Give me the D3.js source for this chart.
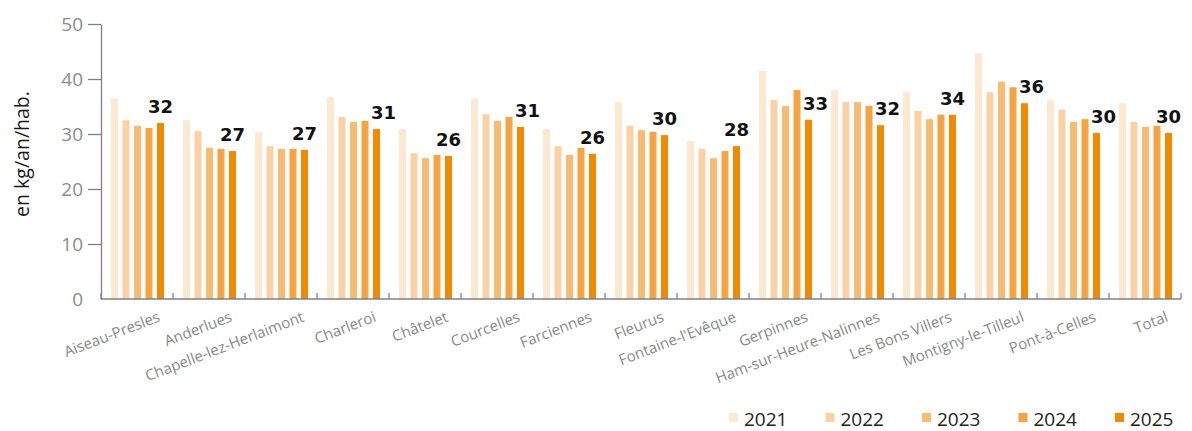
<!DOCTYPE html>
<html>
<head>
<meta charset="utf-8">
<script src="https://cdn.jsdelivr.net/npm/d3@7"></script>
<style>
  html, body { margin: 0; padding: 0; background: #fff; }
  svg { display: block; }
</style>
</head>
<body>
<svg id="chart" width="1192" height="431"></svg>
<script>
const categories = ["Aiseau-Presles", "Anderlues", "Chapelle-lez-Herlaimont", "Charleroi", "Châtelet", "Courcelles", "Farciennes", "Fleurus", "Fontaine-l'Evêque", "Gerpinnes", "Ham-sur-Heure-Nalinnes", "Les Bons Villers", "Montigny-le-Tilleul", "Pont-à-Celles", "Total"];
const years = ["2021", "2022", "2023", "2024", "2025"];
const v2021 = [36.5, 32.5, 30.4, 36.7, 30.9, 36.4, 30.9, 35.8, 28.7, 41.5, 38.0, 37.6, 44.7, 36.2, 35.6];
const v2022 = [32.5, 30.5, 27.8, 33.1, 26.5, 33.6, 27.8, 31.5, 27.3, 36.2, 35.8, 34.2, 37.6, 34.4, 32.2];
const v2023 = [31.5, 27.5, 27.3, 32.2, 25.6, 32.4, 26.2, 30.7, 25.6, 35.1, 35.8, 32.7, 39.5, 32.2, 31.3];
const v2024 = [31.1, 27.3, 27.3, 32.4, 26.2, 33.1, 27.5, 30.4, 26.9, 38.0, 35.1, 33.5, 38.5, 32.7, 31.5];
const v2025 = [32.0, 26.9, 27.1, 30.9, 26.0, 31.3, 26.4, 29.8, 27.8, 32.6, 31.6, 33.5, 35.6, 30.2, 30.2];
const valueLabels = ["32", "27", "27", "31", "26", "31", "26", "30", "28", "33", "32", "34", "36", "30", "30"];
const yTicks = [0, 10, 20, 30, 40, 50];
const yTitle = "en kg/an/hab.";
const colors = ["#fde8d1", "#fbd2a4", "#f8bb73", "#f4a443", "#f08a05"];

const series = [v2021, v2022, v2023, v2024, v2025];

const svg = d3.select("#chart");
const mLeft = 101, mRight = 1181, mTop = 24, mBottom = 299;

const y = d3.scaleLinear().domain([0, 50]).range([mBottom, mTop]);
const x0 = d3.scaleBand().domain(categories).range([mLeft, mRight]).padding(0);
const x1 = d3.scaleBand().domain(years).range([10, 63]).paddingInner(0.391).paddingOuter(0);
const color = d3.scaleOrdinal().domain(years).range(colors);

const font = "'Open Sans', 'Noto Sans', sans-serif";

// Y axis
const yAxis = d3.axisLeft(y).tickValues(yTicks).tickSize(13).tickSizeOuter(0).tickPadding(5);
const gy = svg.append("g").attr("transform", `translate(${mLeft},0)`).call(yAxis);
gy.select(".domain").attr("stroke", "#808080").attr("stroke-width", 1.3);
gy.selectAll(".tick line").attr("stroke", "#808080").attr("stroke-width", 1.3)
  .filter(d => d === 0).remove();
gy.selectAll(".tick text").attr("fill", "#8c8c8c").style("font-family", font).style("font-size", "19px");

// bars
const groups = svg.append("g").selectAll("g")
  .data(categories)
  .join("g")
  .attr("transform", d => `translate(${x0(d)},0)`);

groups.selectAll("rect")
  .data((d, i) => years.map((yr, j) => ({ yr, v: series[j][i] })))
  .join("rect")
  .attr("x", d => x1(d.yr))
  .attr("width", x1.bandwidth())
  .attr("y", d => y(d.v))
  .attr("height", d => y(0) - y(d.v))
  .attr("fill", d => color(d.yr));

// X axis
const xAxisG = svg.append("g");
xAxisG.append("line")
  .attr("x1", mLeft).attr("x2", mRight).attr("y1", mBottom).attr("y2", mBottom)
  .attr("stroke", "#808080").attr("stroke-width", 1.3);
const boundaries = categories.map(c => x0(c)).concat([x0(categories[categories.length - 1]) + x0.bandwidth()]);
xAxisG.selectAll("line.tk").data(boundaries).join("line")
  .attr("class", "tk")
  .attr("x1", d => d).attr("x2", d => d)
  .attr("y1", mBottom).attr("y2", mBottom - 6)
  .attr("stroke", "#808080").attr("stroke-width", 1.3);

xAxisG.selectAll("text").data(categories).join("text")
  .attr("transform", d => `translate(${x0(d) + x0.bandwidth() / 2 + 24},321) rotate(-21)`)
  .attr("text-anchor", "end")
  .attr("fill", "#8a8a8a")
  .style("font-family", font)
  .style("font-size", "15px")
  .text(d => d);

// value labels above the 2025 bar
svg.append("g").selectAll("text")
  .data(categories)
  .join("text")
  .each(function (d, i) {
    const cx = x0(d) + x1("2025") + x1.bandwidth() / 2;
    const base = y(v2025[i]) - 10;
    const shift = y(v2024[i]) < base + 2 ? 7 : 0;
    d3.select(this).attr("x", cx + shift).attr("y", base);
  })
  .attr("text-anchor", "middle")
  .attr("fill", "#111")
  .style("font-family", "'DejaVu Sans', sans-serif")
  .style("font-weight", "bold")
  .style("font-size", "18px")
  .text((d, i) => valueLabels[i]);

// Y title
svg.append("text")
  .attr("transform", "translate(29,154) rotate(-90)")
  .attr("text-anchor", "middle")
  .attr("fill", "#1a1a1a")
  .style("font-family", font)
  .style("font-size", "19.5px")
  .text(yTitle);

// legend
const legend = svg.append("g").selectAll("g")
  .data(years)
  .join("g")
  .attr("transform", (d, i) => `translate(${729 + i * 96.5},0)`);
legend.append("rect")
  .attr("x", 0).attr("y", 413).attr("width", 9).attr("height", 9)
  .attr("fill", d => color(d));
legend.append("text")
  .attr("x", 15).attr("y", 425.5)
  .attr("fill", "#222")
  .style("font-family", font)
  .style("font-size", "19px")
  .text(d => d);
</script>
</body>
</html>
